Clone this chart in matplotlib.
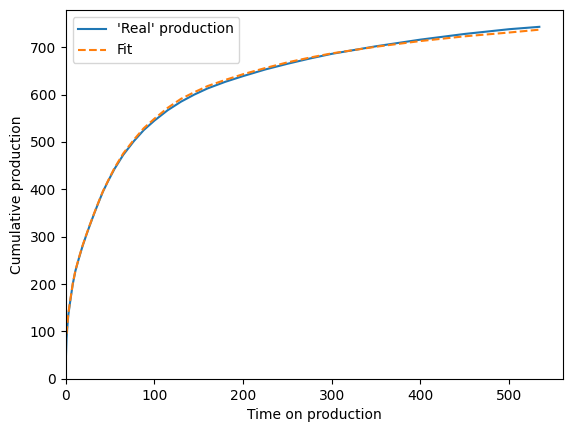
import matplotlib
matplotlib.use("Agg")
import matplotlib.pyplot as plt

# values
real_t = [0, 1, 2, 3, 5, 8, 11, 15, 19, 23, 27, 32, 37, 42, 48, 55, 65, 77, 88,
          100, 115, 130, 145, 160, 180, 200, 225, 250, 275, 300, 350, 400, 450, 500, 534]
real_q = [30, 85, 112, 135, 162, 200, 228, 255, 280, 302, 323, 348, 372, 395, 418,
          443, 473, 502, 525, 545, 567, 585, 600, 613, 627, 639, 653, 665, 676, 686,
          702, 716, 728, 738, 743]

fit_t = [1, 2, 3, 5, 8, 11, 15, 19, 23, 27, 32, 37, 42, 48, 55, 65, 77, 88,
         100, 115, 130, 145, 160, 180, 200, 225, 250, 275, 300, 350, 400, 450, 500, 534]
fit_q = [95, 117, 138, 164, 201, 229, 256, 281, 303, 324, 349, 373, 396, 419,
         445, 476, 505, 529, 549, 572, 591, 605, 618, 631, 643, 656, 668, 678, 687,
         701, 713, 723, 731, 737]

fig, ax = plt.subplots(figsize=(5.71, 4.32), dpi=100)
ax.plot(real_t, real_q, label="'Real' production")
ax.plot(fit_t, fit_q, "--", label="Fit")
ax.set_xlim(left=0)
ax.set_ylim(bottom=0)
ax.set_xlabel("Time on production")
ax.set_ylabel("Cumulative production")
ax.legend(loc="upper left")
fig.subplots_adjust(left=0.115, right=0.986, bottom=0.123, top=0.977)
fig.savefig("out.png")
